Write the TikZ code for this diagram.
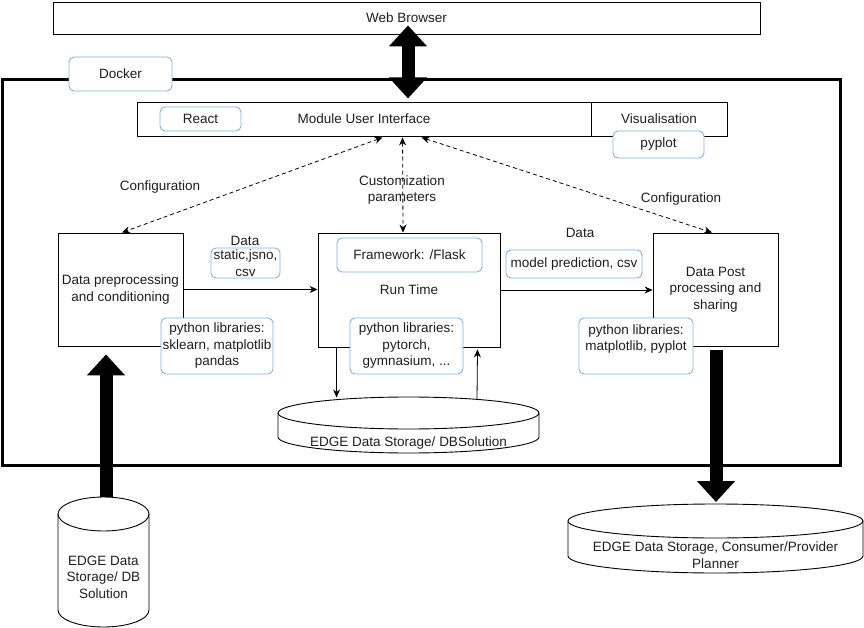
\documentclass[tikz,border=0pt]{standalone}
\usepackage{fontspec}
\setmainfont{Liberation Sans}
\usetikzlibrary{arrows.meta,calc}
\definecolor{bluebd}{RGB}{126,178,232}
\definecolor{txt}{RGB}{30,30,30}
\begin{document}
\begin{tikzpicture}[x=1pt,y=-1pt,
  every node/.style={font=\fontsize{13.5}{16.5}\selectfont, text=txt},
  box/.style={draw=black, line width=0.9pt, fill=white, inner sep=0pt, align=center},
  tag/.style={draw=bluebd, line width=0.9pt, rounded corners=5pt, fill=white, inner sep=0pt, align=center},
  lbl/.style={inner sep=0pt, align=center},
  ghost/.style={inner sep=0pt, outer sep=0pt},
  dashconn/.style={line width=0.8pt, dash pattern=on 4pt off 3pt, {Stealth[length=8pt,width=7pt]}-{Stealth[length=8pt,width=7pt]}},
  conn/.style={line width=0.8pt, -{Stealth[length=8pt,width=7pt]}},
  bigarrow/.style={line width=13pt, -{Triangle[width=37pt,length=21pt]}},
  bigdouble/.style={line width=13pt, {Triangle[width=37pt,length=21pt]}-{Triangle[width=37pt,length=21pt]}},
  cyl/.style={line width=0.9pt, draw=black},
]
\useasboundingbox (0,0) rectangle (864,628);

% Docker frame
\node[draw=black, line width=3pt, inner sep=0pt, minimum width=838pt, minimum height=385pt] (docker) at (421,272.5) {};
\node[tag, minimum width=103pt, minimum height=34pt] (dockertag) at (120.5,74) {Docker};

% Web browser
\node[box, minimum width=707pt, minimum height=32pt] (web) at (406.5,18) {Web Browser};

% UI bar
\node[box, minimum width=454pt, minimum height=34pt] (ui) at (364,119) {Module User Interface};
\node[box, minimum width=136pt, minimum height=34pt] (vis) at (659,119) {Visualisation};
\node[tag, minimum width=81pt, minimum height=24pt] (react) at (200.5,119) {React};
\node[tag, minimum width=91pt, minimum height=27pt] (pyplot) at (658.5,144.5) {pyplot};

% Main boxes
\node[box, minimum width=125pt, minimum height=113pt] (pre) at (120.5,289.5) {Data preprocessing\\and conditioning};
\node[box, minimum width=182pt, minimum height=114pt] (run) at (409,290) {Run Time};
\node[box, minimum width=125pt, minimum height=113pt] (post) at (715.5,289.5) {Data Post\\processing and\\sharing};

\node[tag, minimum width=145pt, minimum height=34pt] (flask) at (409.5,255) {Framework: /Flask};
\node[tag, minimum width=112pt, minimum height=56pt] (prelibs) at (217,346) {python libraries:\\sklearn, matplotlib\\pandas};
\node[tag, minimum width=113pt, minimum height=56pt] (runlibs) at (406.5,346) {python libraries:\\pytorch,\\gymnasium, ...};
\node[tag, minimum width=114pt, minimum height=56pt] (postlibs) at (636,346) {python libraries:\\matplotlib, pyplot\\~};

% Data labels
\node[lbl] (data1) at (245,241) {Data};
\node[tag, minimum width=69pt, minimum height=30pt] (static) at (245.5,263) {static,jsno,\\csv};
\node[lbl] (data2) at (580,233) {Data};
\node[tag, minimum width=136pt, minimum height=28pt] (model) at (574,264) {model prediction, csv};

% Config labels
\node[lbl] (conf1) at (160,187) {Configuration};
\node[lbl] (custom) at (402,190) {Customization\\parameters};
\node[lbl] (conf2) at (681,199) {Configuration};

% Cylinder: EDGE storage (middle)
\node[ghost, minimum width=261pt, minimum height=56pt] (store) at (408.5,425) {};
\draw[cyl] (store.west |- 0,413) -- (store.west |- 0,437) arc[start angle=180, end angle=0, x radius=130.5, y radius=16] -- (store.east |- 0,413);
\draw[cyl] (408.5,413) ellipse[x radius=130.5, y radius=16];
\node[lbl] (storetxt) at (408.5,443) {EDGE Data Storage/ DBSolution};

% Cylinder: left DB
\node[ghost, minimum width=91pt, minimum height=130pt] (leftdb) at (103.5,562) {};
\draw[cyl] (leftdb.west |- 0,514) -- (leftdb.west |- 0,610) arc[start angle=180, end angle=0, x radius=45.5, y radius=17] -- (leftdb.east |- 0,514);
\draw[cyl] (103.5,514) ellipse[x radius=45.5, y radius=17];
\node[lbl] (lefttxt) at (103.5,577) {EDGE Data\\Storage/ DB\\Solution};

% Cylinder: right DB
\node[ghost, minimum width=295pt, minimum height=69pt] (rightdb) at (715.5,538.5) {};
\draw[cyl] (rightdb.west |- 0,521) -- (rightdb.west |- 0,556) arc[start angle=180, end angle=0, x radius=147.5, y radius=17] -- (rightdb.east |- 0,521);
\draw[cyl] (715.5,521) ellipse[x radius=147.5, y radius=17];
\node[lbl] (righttxt) at (715.5,555) {EDGE Data Storage, Consumer/Provider\\Planner};

% Solid connectors
\draw[conn] (pre.east) -- (pre.east -| run.west);
\draw[conn] (run.east) -- (run.east -| post.west);
\draw[conn] ($(run.south west)+(19,0)$) -- ($(run.south west)+(19,50)$);
\draw[conn] ($(store.north)+(68.5,3)$) -- ($(run.south)+(68.5,2)$);

% Dashed connectors
\draw[dashconn] ($(ui.south west)+(246,1)$) -- ($(pre.north)+(1.5,0)$);
\draw[dashconn] ($(ui.south west)+(266,1)$) -- ($(run.north)+(-6,0)$);
\draw[dashconn] ($(ui.south west)+(285,1)$) -- ($(post.north)+(-3.5,0)$);

% Big arrows
\draw[bigdouble] ($(web.south)+(1.5,-9)$) -- ($(web.south)+(1.5,64)$);
\draw[bigarrow] ($(leftdb.north)+(2.5,0)$) -- ($(pre.south)+(-14.5,8)$);
\draw[bigarrow] ($(post.south)+(0.5,4)$) -- ($(rightdb.north)+(0.5,-2)$);
\end{tikzpicture}
\end{document}
